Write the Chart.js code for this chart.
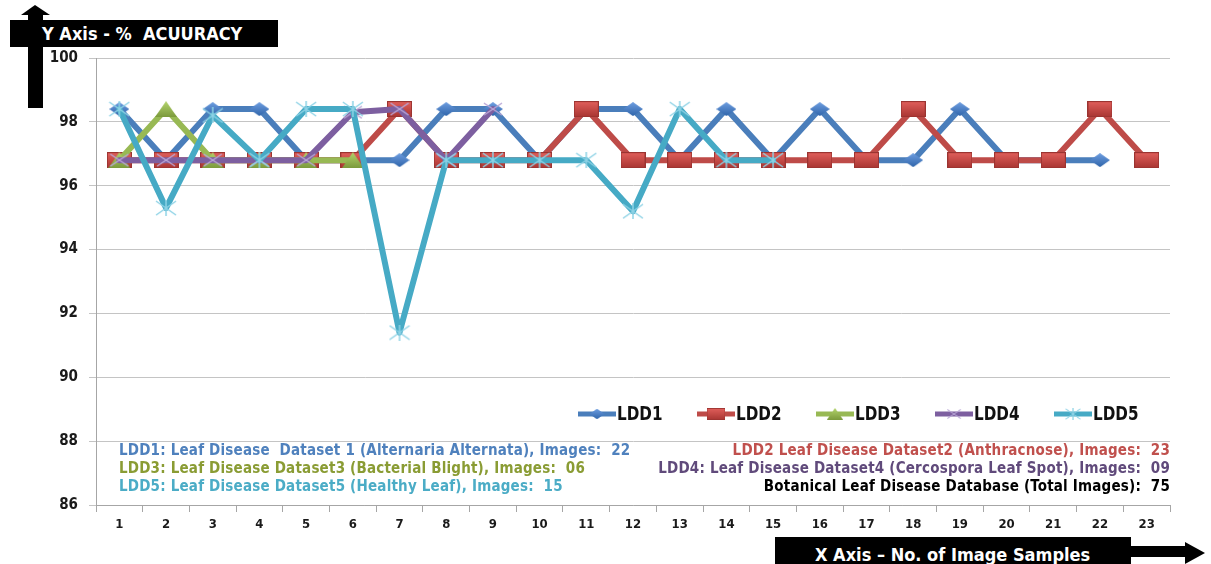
<!DOCTYPE html>
<html>
<head>
<meta charset="utf-8">
<script src="https://cdn.jsdelivr.net/npm/chart.js@4.4.0/dist/chart.umd.min.js"></script>
<style>
    body { margin: 0; background: #fff; }
    #wrap { position: relative; width: 1211px; height: 564px; overflow: hidden; }
    #chart { position: absolute; left: 0; top: 0; }
    .note {
        position: absolute;
        font-family: "DejaVu Sans Condensed", "DejaVu Sans", sans-serif;
        font-stretch: condensed;
        font-weight: bold;
        font-size: 15px;
        letter-spacing: 0.2px;
        line-height: 18px;
        white-space: nowrap;
    }
    .titlebox {
        position: absolute;
        background: #000;
        color: #fff;
        font-family: "DejaVu Sans Condensed", "DejaVu Sans", sans-serif;
        font-stretch: condensed;
        font-weight: bold;
        white-space: nowrap;
    }
    svg { position: absolute; left: 0; top: 0; }
</style>
</head>
<body>
<div id="wrap">
    <canvas id="chart" width="1211" height="564"></canvas>
    <svg width="1211" height="564">
        <!-- y axis arrow -->
        <rect x="28" y="12" width="15" height="96" fill="#000"></rect>
        <polygon points="35,5 50,15 21,15" fill="#000"></polygon>
        <!-- x axis arrow -->
        <rect x="1125" y="546" width="64" height="11" fill="#000"></rect>
        <polygon points="1185,542 1205,553 1185,564" fill="#000"></polygon>
    </svg>
    <div class="titlebox" style="left:10px; top:20px; width:268px; height:27px; font-size:18px; line-height:27px;">
        <span style="margin-left:32px">Y Axis - %&nbsp; ACUURACY</span>
    </div>
    <div class="titlebox" style="left:775px; top:537px; width:356px; height:27px; font-size:18px; line-height:35px;">
        <span style="margin-left:40px">X Axis – No. of Image Samples</span>
    </div>
    <div id="notesLeft" class="note" style="left:119px; top:441px;"></div>
    <div id="notesRight" class="note" style="right:41px; top:441px; text-align:right;"></div>
</div>

<script>
// categories (no. of image samples)
const samples = ['1', '2', '3', '4', '5', '6', '7', '8', '9', '10', '11', '12',
    '13', '14', '15', '16', '17', '18', '19', '20', '21', '22', '23'];

// % accuracy per dataset
const ldd1 = [98.4, 96.8, 98.4, 98.4, 96.8, 96.8, 96.8, 98.4, 98.4, 96.8, 98.4,
    98.4, 96.8, 98.4, 96.8, 98.4, 96.8, 96.8, 98.4, 96.8, 96.8, 96.8];
const ldd2 = [96.8, 96.8, 96.8, 96.8, 96.8, 96.8, 98.4, 96.8, 96.8, 96.8, 98.4, 96.8,
    96.8, 96.8, 96.8, 96.8, 96.8, 98.4, 96.8, 96.8, 96.8, 98.4, 96.8];
const ldd3 = [96.8, 98.4, 96.8, 96.8, 96.8, 96.8];
const ldd4 = [96.8, 96.8, 96.8, 96.8, 96.8, 98.3, 98.4, 96.8, 98.4];
const ldd5 = [98.4, 95.3, 98.2, 96.8, 98.4, 98.4, 91.4, 96.8, 96.8, 96.8, 96.8, 95.2,
    98.4, 96.8, 96.8];

const seriesNames = ['LDD1', 'LDD2', 'LDD3', 'LDD4', 'LDD5'];

// y axis range
const yMin = 86;
const yMax = 100;
const yStep = 2;

// text block under the legend
const notesLeft = [
    'LDD1: Leaf Disease  Dataset 1 (Alternaria Alternata), Images:  22',
    'LDD3: Leaf Disease Dataset3 (Bacterial Blight), Images:  06',
    'LDD5: Leaf Disease Dataset5 (Healthy Leaf), Images:  15'
];
const notesRight = [
    'LDD2 Leaf Disease Dataset2 (Anthracnose), Images:  23',
    'LDD4: Leaf Disease Dataset4 (Cercospora Leaf Spot), Images:  09',
    'Botanical Leaf Disease Database (Total Images):  75'
];
const notesLeftColors = ['#4f81bd', '#8a9c34', '#4bacc6'];
const notesRightColors = ['#c0504d', '#604a7b', '#000000'];

function fillNotes(id, lines, colors) {
    const box = document.getElementById(id);
    lines.forEach((line, i) => {
        const d = document.createElement('div');
        d.textContent = line;
        d.style.color = colors[i];
        d.style.whiteSpace = 'pre';
        box.appendChild(d);
    });
}
fillNotes('notesLeft', notesLeft, notesLeftColors);
fillNotes('notesRight', notesRight, notesRightColors);

// marker images, drawn once and used as pointStyle
function makeMarker(type) {
    const c = document.createElement('canvas');
    let ctx;
    if (type === 'diamond') {
        c.width = 20; c.height = 14;
        ctx = c.getContext('2d');
        const g = ctx.createLinearGradient(0, 0, 0, 14);
        g.addColorStop(0, '#6d9de0');
        g.addColorStop(1, '#2f65aa');
        ctx.fillStyle = g;
        ctx.beginPath();
        ctx.moveTo(10, 0); ctx.lineTo(20, 7); ctx.lineTo(10, 14); ctx.lineTo(0, 7);
        ctx.closePath();
        ctx.fill();
    } else if (type === 'square') {
        c.width = 25; c.height = 16;
        ctx = c.getContext('2d');
        const g = ctx.createLinearGradient(0, 0, 0, 16);
        g.addColorStop(0, '#e2605c');
        g.addColorStop(1, '#a83532');
        ctx.fillStyle = g;
        ctx.fillRect(0, 0, 25, 16);
        ctx.strokeStyle = '#9b3431';
        ctx.lineWidth = 1;
        ctx.strokeRect(0.5, 0.5, 24, 15);
    } else if (type === 'triangle') {
        c.width = 22; c.height = 16;
        ctx = c.getContext('2d');
        const g = ctx.createLinearGradient(0, 0, 0, 16);
        g.addColorStop(0, '#b3d46c');
        g.addColorStop(1, '#7b9a3c');
        ctx.fillStyle = g;
        ctx.beginPath();
        ctx.moveTo(11, 0); ctx.lineTo(22, 16); ctx.lineTo(0, 16);
        ctx.closePath();
        ctx.fill();
    } else if (type === 'cross') {
        c.width = 20; c.height = 14;
        ctx = c.getContext('2d');
        ctx.strokeStyle = '#b9a6d6';
        ctx.lineWidth = 1.5;
        ctx.beginPath();
        ctx.moveTo(1, 1); ctx.lineTo(19, 13);
        ctx.moveTo(19, 1); ctx.lineTo(1, 13);
        ctx.stroke();
    } else {
        c.width = 22; c.height = 16;
        ctx = c.getContext('2d');
        ctx.strokeStyle = '#8fd3e6';
        ctx.lineWidth = 1.5;
        ctx.beginPath();
        ctx.moveTo(1, 1); ctx.lineTo(21, 15);
        ctx.moveTo(21, 1); ctx.lineTo(1, 15);
        ctx.moveTo(11, 0); ctx.lineTo(11, 16);
        ctx.stroke();
    }
    return c;
}

const markers = [makeMarker('diamond'), makeMarker('square'), makeMarker('triangle'),
    makeMarker('cross'), makeMarker('star')];
const lineColors = ['#4a7ebb', '#be4b48', '#98b954', '#7d5fa0', '#46aac5'];

const tickFont = { family: '"DejaVu Sans Condensed", "DejaVu Sans", sans-serif', weight: 'bold' };

// legend drawn inside the plot, line + marker + label like the original
const lineLegend = {
    id: 'lineLegend',
    afterDatasetsDraw(chart) {
        const ctx = chart.ctx;
        const y = 414;
        ctx.save();
        seriesNames.forEach((name, i) => {
            const x = 578 + i * 119;
            ctx.strokeStyle = lineColors[i];
            ctx.lineWidth = 5;
            ctx.beginPath();
            ctx.moveTo(x, y);
            ctx.lineTo(x + 38, y);
            ctx.stroke();
            const m = markers[i];
            const mw = m.width * 0.75, mh = m.height * 0.75;
            ctx.drawImage(m, x + 19 - mw / 2, y - mh / 2, mw, mh);
            // squeeze the label to look like the narrow original font
            ctx.save();
            ctx.translate(x + 39, y + 1);
            ctx.scale(0.8, 1);
            ctx.fillStyle = '#111';
            ctx.font = 'bold 19px "DejaVu Sans", sans-serif';
            ctx.textBaseline = 'middle';
            ctx.fillText(name, 0, 0);
            ctx.restore();
        });
        ctx.restore();
    }
};

const allData = [ldd1, ldd2, ldd3, ldd4, ldd5];

new Chart(document.getElementById('chart'), {
    type: 'line',
    data: {
        labels: samples,
        datasets: allData.map((values, i) => ({
            label: seriesNames[i],
            data: values,
            borderColor: lineColors[i],
            backgroundColor: lineColors[i],
            borderWidth: 6,
            tension: 0,
            pointStyle: markers[i],
            pointRadius: 6,
            order: 5 - i,
            borderCapStyle: 'round',
            borderJoinStyle: 'round'
        }))
    },
    options: {
        responsive: false,
        animation: false,
        layout: { padding: { top: 58, right: 41, bottom: 0, left: 0 } },
        plugins: {
            legend: { display: false },
            tooltip: { enabled: false }
        },
        scales: {
            x: {
                offset: true,
                grid: { drawOnChartArea: false, offset: true, tickLength: 7, color: '#a6a6a6' },
                border: { color: '#a6a6a6' },
                ticks: { font: { ...tickFont, size: 13 }, color: '#1a1a1a', padding: 5, maxRotation: 0, autoSkip: false },
                afterFit: s => { s.height = 59; }
            },
            y: {
                min: yMin,
                max: yMax,
                grid: { color: '#c4c4c4', tickLength: 7 },
                border: { color: '#a6a6a6' },
                ticks: { stepSize: yStep, font: { ...tickFont, size: 15 }, color: '#1a1a1a', padding: 11 },
                afterFit: s => { s.width = 96; }
            }
        }
    },
    plugins: [lineLegend]
});
</script>
</body>
</html>
